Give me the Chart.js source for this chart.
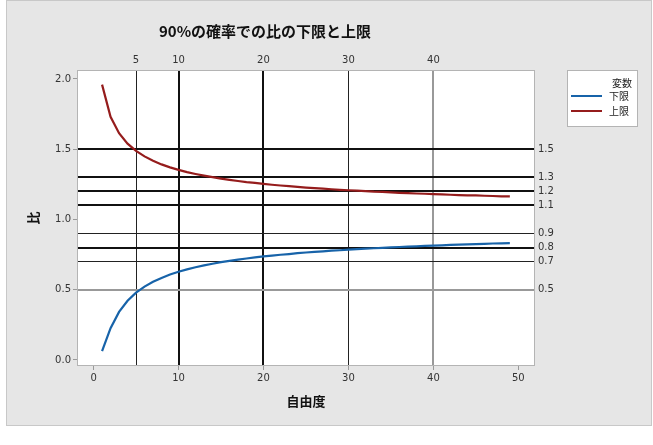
<!DOCTYPE html>
<html>
<head>
<meta charset="utf-8">
<script src="https://cdn.jsdelivr.net/npm/chart.js@4"></script>
<style>
  body { margin: 0; background: #fff; }
  #wrap { width: 653px; height: 445px; }
</style>
</head>
<body>
<div id="wrap"><canvas id="ratioChart" width="653" height="445"></canvas></div>
<script>
// degrees of freedom and the two bounds
const df = [1, 2, 3, 4, 5, 6, 7, 8, 9, 10, 11, 12, 13, 14, 15, 16, 17, 18, 19, 20,
  21, 22, 23, 24, 25, 26, 27, 28, 29, 30, 31, 32, 33, 34, 35, 36, 37, 38, 39, 40,
  41, 42, 43, 44, 45, 46, 47, 48, 49];
const lower = [0.063, 0.226, 0.342, 0.421, 0.479, 0.522, 0.556, 0.584, 0.608, 0.628,
  0.645, 0.660, 0.673, 0.685, 0.696, 0.705, 0.714, 0.722, 0.730, 0.737,
  0.743, 0.749, 0.754, 0.760, 0.765, 0.769, 0.773, 0.778, 0.781, 0.785,
  0.789, 0.792, 0.795, 0.798, 0.801, 0.804, 0.807, 0.809, 0.812, 0.814,
  0.816, 0.819, 0.821, 0.823, 0.825, 0.827, 0.829, 0.830, 0.832];
const upper = [1.960, 1.731, 1.614, 1.540, 1.488, 1.449, 1.418, 1.392, 1.371, 1.353,
  1.337, 1.324, 1.312, 1.301, 1.291, 1.282, 1.274, 1.266, 1.260, 1.253,
  1.247, 1.242, 1.237, 1.232, 1.227, 1.223, 1.219, 1.215, 1.211, 1.208,
  1.205, 1.202, 1.198, 1.196, 1.193, 1.190, 1.188, 1.185, 1.183, 1.181,
  1.178, 1.176, 1.174, 1.172, 1.171, 1.169, 1.167, 1.165, 1.164];

// reference lines and tick labels
const refX = [5, 10, 20, 30, 40];
const refY = [1.5, 1.3, 1.2, 1.1, 0.9, 0.8, 0.7, 0.5];
const xTicks = [0, 10, 20, 30, 40, 50];
const yTicks = [0, 0.5, 1.0, 1.5, 2.0];

const seriesLabels = ['下限', '上限'];
const legendTitle = '変数';
const chartTitle = '90%の確率での比の下限と上限';

// line styles for the reference lines (same order as refX / refY)
const refXStyle = ['thin', 'thick', 'thick', 'thin', 'gray'];
const refYStyle = ['thick', 'thick', 'thick', 'thick', 'thin', 'thick', 'thin', 'gray'];
const styles = {
  thick: { color: '#111', width: 2 },
  thin: { color: '#222', width: 1 },
  gray: { color: '#999', width: 2 }
};

const tickFont = { family: 'DejaVu Sans', size: 10 };
const cjkFont = '"Noto Sans CJK JP", "Noto Sans", sans-serif';

const toXY = (ys) => ys.map((v, i) => ({ x: df[i], y: v }));

// snap to the pixel grid so 1px lines stay crisp
const snap = (p, w) => (w % 2 === 1 ? Math.round(p - 0.5) + 0.5 : Math.round(p));

const panelPlugin = {
  id: 'panel',
  beforeDraw(chart) {
    const ctx = chart.ctx;
    const a = chart.chartArea;
    ctx.save();
    ctx.fillStyle = '#e6e6e6';
    ctx.fillRect(6, 0, 646, 426);
    ctx.strokeStyle = '#c8c8c8';
    ctx.lineWidth = 1;
    ctx.strokeRect(6.5, 0.5, 645, 425);
    ctx.fillStyle = '#fff';
    ctx.fillRect(a.left, a.top, a.right - a.left, a.bottom - a.top);
    ctx.restore();
  },
  beforeDatasetsDraw(chart) {
    const ctx = chart.ctx;
    const a = chart.chartArea;
    const xs = chart.scales.x, ys = chart.scales.y;
    ctx.save();
    refX.forEach((v, i) => {
      const st = styles[refXStyle[i]];
      const px = snap(xs.getPixelForValue(v), st.width);
      ctx.strokeStyle = st.color;
      ctx.lineWidth = st.width;
      ctx.beginPath();
      ctx.moveTo(px, a.top);
      ctx.lineTo(px, a.bottom);
      ctx.stroke();
    });
    refY.forEach((v, i) => {
      const st = styles[refYStyle[i]];
      const py = snap(ys.getPixelForValue(v), st.width);
      ctx.strokeStyle = st.color;
      ctx.lineWidth = st.width;
      ctx.beginPath();
      ctx.moveTo(a.left, py);
      ctx.lineTo(a.right, py);
      ctx.stroke();
    });
    ctx.restore();
  },
  afterDraw(chart) {
    const ctx = chart.ctx;
    const a = chart.chartArea;
    ctx.save();
    // plot border
    ctx.strokeStyle = '#b4b4b4';
    ctx.lineWidth = 1;
    ctx.strokeRect(a.left + 0.5, a.top + 0.5, a.right - a.left - 1, a.bottom - a.top - 1);

    // title
    ctx.fillStyle = '#111';
    ctx.font = 'bold 15px ' + cjkFont;
    ctx.textAlign = 'center';
    ctx.textBaseline = 'middle';
    ctx.fillText(chartTitle, 265, 31);

    // legend box
    const lx = 567, ly = 70, lw = 71, lh = 57;
    ctx.fillStyle = '#fff';
    ctx.fillRect(lx, ly, lw, lh);
    ctx.strokeStyle = '#b4b4b4';
    ctx.strokeRect(lx + 0.5, ly + 0.5, lw - 1, lh - 1);
    ctx.font = '10px ' + cjkFont;
    ctx.fillStyle = '#222';
    ctx.textAlign = 'right';
    ctx.fillText(legendTitle, 632, 83);
    chart.data.datasets.forEach((ds, i) => {
      const y = 96 + i * 15;
      ctx.strokeStyle = ds.borderColor;
      ctx.lineWidth = 2;
      ctx.beginPath();
      ctx.moveTo(571, y);
      ctx.lineTo(602, y);
      ctx.stroke();
      ctx.textAlign = 'left';
      ctx.fillText(ds.label, 609, y);
    });
    ctx.restore();
  }
};

const ctx = document.getElementById('ratioChart').getContext('2d');

new Chart(ctx, {
  type: 'line',
  data: {
    datasets: [{
      label: seriesLabels[0],
      data: toXY(lower),
      borderColor: '#1763a9',
      borderWidth: 2.2,
      pointRadius: 0,
      fill: false
    }, {
      label: seriesLabels[1],
      data: toXY(upper),
      borderColor: '#951c1c',
      borderWidth: 2.2,
      pointRadius: 0,
      fill: false
    }]
  },
  options: {
    responsive: false,
    animation: false,
    layout: { padding: 0 },
    plugins: {
      legend: { display: false },
      title: { display: false },
      tooltip: { enabled: false }
    },
    scales: {
      x: {
        type: 'linear',
        position: 'bottom',
        min: -1.95,
        max: 51.96,
        afterFit: s => { s.height = 79; },
        afterBuildTicks: s => { s.ticks = xTicks.map(v => ({ value: v })); },
        grid: { drawOnChartArea: false, tickLength: 4, color: '#999' },
        border: { display: false },
        ticks: { font: tickFont, color: '#333', padding: 2 },
        title: {
          display: true,
          text: '自由度',
          font: { family: cjkFont, size: 13, weight: 'bold' },
          color: '#111',
          padding: { top: 0, bottom: 36 }
        }
      },
      x2: {
        type: 'linear',
        position: 'top',
        min: -1.95,
        max: 51.96,
        afterFit: s => { s.height = 70; },
        afterBuildTicks: s => { s.ticks = refX.map(v => ({ value: v })); },
        grid: { display: false, drawTicks: false },
        border: { display: false },
        ticks: { font: tickFont, color: '#333', padding: 4 }
      },
      y: {
        type: 'linear',
        position: 'left',
        min: -0.043,
        max: 2.064,
        afterFit: s => { s.width = 77; },
        afterBuildTicks: s => { s.ticks = yTicks.map(v => ({ value: v })); },
        grid: { drawOnChartArea: false, tickLength: 4, color: '#999' },
        border: { display: false },
        ticks: { font: tickFont, color: '#333', padding: 2, callback: v => v.toFixed(1) },
        title: {
          display: true,
          text: '比',
          font: { family: cjkFont, size: 13, weight: 'bold' },
          color: '#111',
          padding: { top: 25, bottom: 0 }
        }
      },
      y2: {
        type: 'linear',
        position: 'right',
        min: -0.043,
        max: 2.064,
        afterFit: s => { s.width = 118; },
        afterBuildTicks: s => { s.ticks = refY.map(v => ({ value: v })); },
        grid: { display: false, drawTicks: false },
        border: { display: false },
        ticks: { font: tickFont, color: '#333', padding: 3, callback: v => v.toFixed(1) }
      }
    }
  },
  plugins: [panelPlugin]
});
</script>
</body>
</html>
